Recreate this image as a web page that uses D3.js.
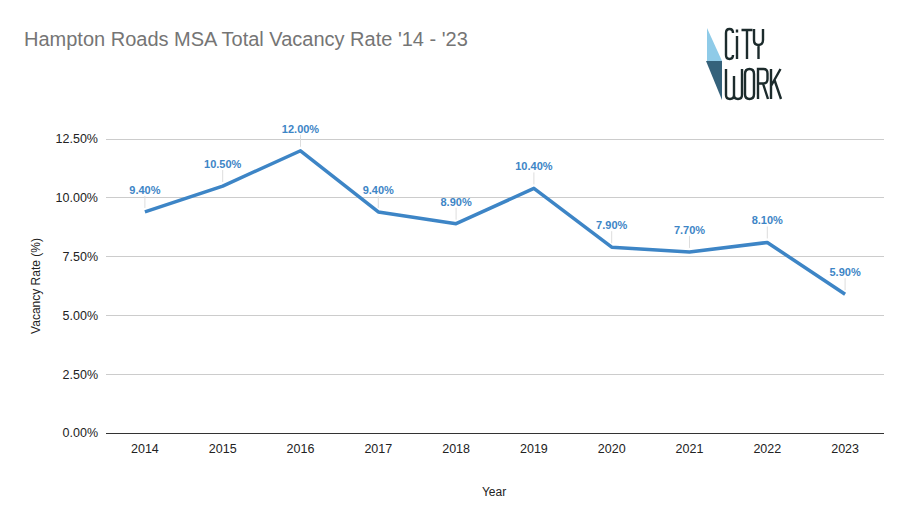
<!DOCTYPE html>
<html>
<head>
<meta charset="utf-8">
<script src="https://cdn.jsdelivr.net/npm/d3@7"></script>
<style>
  body { margin: 0; background: #fff; }
  text { font-family: Arial, "Liberation Sans", sans-serif; }
</style>
</head>
<body>
<div id="box1"><svg id="box1_svg"></svg></div>
<script>
"use strict";

// data
const years = ["2014", "2015", "2016", "2017", "2018", "2019", "2020", "2021", "2022", "2023"];
const vacancy = [9.4, 10.5, 12.0, 9.4, 8.9, 10.4, 7.9, 7.7, 8.1, 5.9];
const y_ticks = [0, 2.5, 5, 7.5, 10, 12.5];

const width = 910, height = 528;
const m = { left: 106, right: 884, top: 139, bottom: 433 };
const line_color = "#3d85c6";

const svg = d3.select("#box1_svg")
  .attr("width", width)
  .attr("height", height);

svg.append("rect").attr("width", width).attr("height", height).attr("fill", "#fff");

const x = d3.scalePoint().domain(years).range([m.left, m.right]).padding(0.5);
const y = d3.scaleLinear().domain([0, 12.5]).range([m.bottom, m.top]);

// gridlines
svg.append("g")
  .selectAll("line")
  .data(y_ticks)
  .join("line")
  .attr("x1", m.left).attr("x2", m.right)
  .attr("y1", d => y(d)).attr("y2", d => y(d))
  .attr("stroke", d => d == 0 ? "#333" : "#ccc")
  .attr("stroke-width", 1)
  .attr("shape-rendering", "crispEdges");

// y tick labels
svg.append("g")
  .selectAll("text")
  .data(y_ticks)
  .join("text")
  .attr("x", m.left - 8)
  .attr("y", d => y(d))
  .attr("dy", "0.35em")
  .attr("text-anchor", "end")
  .attr("font-size", 12.5)
  .attr("fill", "#222")
  .text(d => d.toFixed(2) + "%");

// x tick labels
svg.append("g")
  .selectAll("text")
  .data(years)
  .join("text")
  .attr("x", d => x(d))
  .attr("y", m.bottom + 20)
  .attr("text-anchor", "middle")
  .attr("font-size", 12.5)
  .attr("fill", "#222")
  .text(d => d);

// axis titles
svg.append("text")
  .attr("x", 494).attr("y", 496)
  .attr("text-anchor", "middle")
  .attr("font-size", 12)
  .attr("fill", "#222")
  .text("Year");

svg.append("text")
  .attr("transform", "translate(40,286) rotate(-90)")
  .attr("text-anchor", "middle")
  .attr("font-size", 12)
  .attr("fill", "#222")
  .text("Vacancy Rate (%)");

// title
svg.append("text")
  .attr("x", 24).attr("y", 46)
  .attr("font-size", 20)
  .attr("fill", "#757575")
  .text("Hampton Roads MSA Total Vacancy Rate '14 - '23");

// leader lines for labels
const pts = years.map((d, i) => ({ year: d, v: vacancy[i] }));

svg.append("g")
  .selectAll("line")
  .data(pts)
  .join("line")
  .attr("x1", d => x(d.year)).attr("x2", d => x(d.year))
  .attr("y1", d => y(d.v) - 4).attr("y2", d => y(d.v) - 16)
  .attr("stroke", "#ddd")
  .attr("stroke-width", 1);

// line
svg.append("path")
  .datum(pts)
  .attr("fill", "none")
  .attr("stroke", line_color)
  .attr("stroke-width", 3.5)
  .attr("stroke-linejoin", "round")
  .attr("d", d3.line().x(d => x(d.year)).y(d => y(d.v)));

// data labels
svg.append("g")
  .selectAll("text")
  .data(pts)
  .join("text")
  .attr("x", d => x(d.year))
  .attr("y", d => y(d.v) - 18)
  .attr("text-anchor", "middle")
  .attr("font-size", 11)
  .attr("font-weight", "bold")
  .attr("fill", line_color)
  .text(d => d.v.toFixed(2) + "%");

// logo (drawn as thin strokes)
const logo = svg.append("g");
logo.append("path")
  .attr("d", "M707,28 L707,61 L722,61 Z")
  .attr("fill", "#8fcbe8");
logo.append("path")
  .attr("d", "M706,61 L722,61 L722,100 Z")
  .attr("fill", "#35627b");

const letters = [
  // C i T Y
  "M733,33 Q733,29 729.5,29 Q726,29 726,33 L726,55 Q726,59 729.5,59 Q733,59 733,55",
  "M737,36 V59",
  "M741.5,30 H752.5 M747,30 V59",
  "M754,29 V40 Q754,45 758.5,45 Q763,45 763,40 V29 M758.5,45 V59",
  // W O R K
  "M726,69 V95 Q726,99 730,99 Q734,99 734,95 V76 M734,95 Q734,99 738,99 Q742,99 742,95 V69",
  "M749.5,69 Q745,69 745,74 V94 Q745,99 749.5,99 Q754,99 754,94 V74 Q754,69 749.5,69 Z",
  "M758,99 V69 H763.5 Q767.5,69 767.5,73.5 V79 Q767.5,83.5 763.5,83.5 H758 M763,83.5 L768,99",
  "M771,69 V99 M780.5,69 L771,86 M774.5,80 L781,99"
];
logo.selectAll("path.letter")
  .data(letters)
  .join("path")
  .attr("class", "letter")
  .attr("d", d => d)
  .attr("fill", "none")
  .attr("stroke", "#1c2b2c")
  .attr("stroke-width", 2.4)
  .attr("stroke-linecap", "butt");
logo.append("rect")
  .attr("x", 735.8).attr("y", 29.5).attr("width", 2.4).attr("height", 3)
  .attr("fill", "#1c2b2c");
</script>
</body>
</html>
